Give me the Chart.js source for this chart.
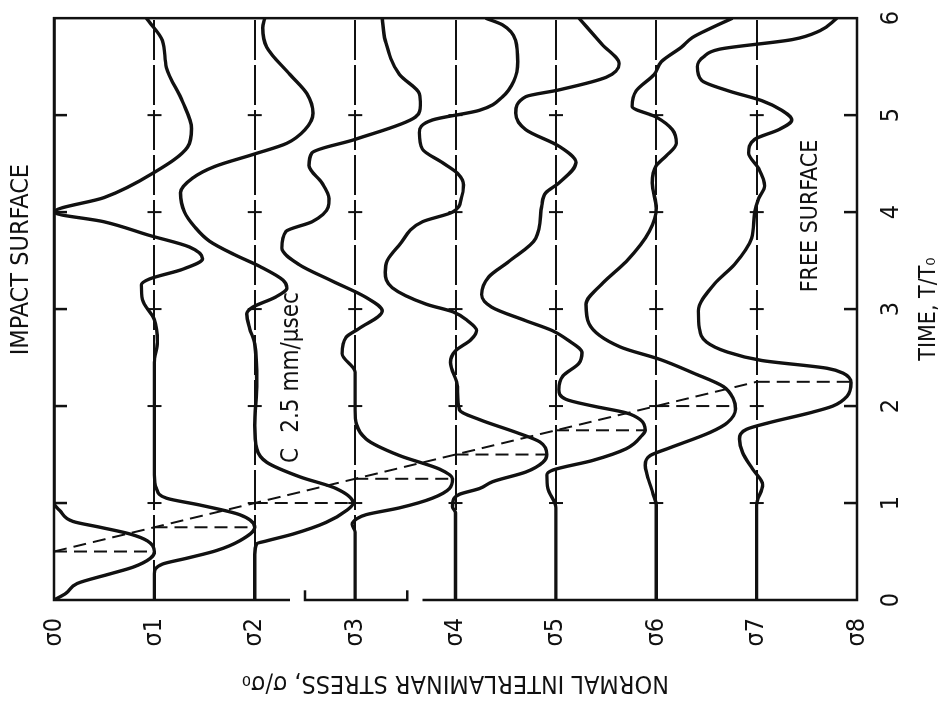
<!DOCTYPE html>
<html>
<head>
<meta charset="utf-8">
<script src="https://cdn.jsdelivr.net/npm/chart.js@4.4.1/dist/chart.umd.min.js"></script>
<style>
  html, body { margin: 0; padding: 0; background: #fff; overflow: hidden; }
  /* the figure is printed sideways: draw it upright, then turn it a quarter turn */
  #wrap {
    position: absolute; left: 0; top: 0;
    width: 707px; height: 943px;
    transform-origin: 0 0;
    transform: translate(0, 707px) rotate(-90deg);
  }
</style>
</head>
<body>
<div id="wrap"><canvas id="stress"></canvas></div>
<script>
document.addEventListener('DOMContentLoaded', () => {

  // AXES
  const timeTicks = [0, 1, 2, 3, 4, 5, 6];
  const layerLabels = ['σ0', 'σ1', 'σ2', 'σ3', 'σ4', 'σ5', 'σ6', 'σ7', 'σ8'];

  // STRESS HISTORY PER INTERFACE (time T/T0, offset from own baseline in σ0 units)
  const layer0Time = [0, 0.07, 0.17, 0.27, 0.34, 0.43, 0.5, 0.61, 0.68, 0.75, 0.81, 0.92, 1.0, 6.0];
  const layer0Stress = [0, 0.12, 0.23, 0.56, 0.79, 0.96, 1.0, 0.93, 0.76, 0.46, 0.19, 0.06, 0, 0];

  const layer1Time = [0, 0.27, 0.37, 0.43, 0.51, 0.61, 0.75, 0.88, 0.98, 1.05, 1.15, 1.29, 2.45, 2.66, 2.89, 3.1, 3.25, 3.31, 3.41, 3.52, 3.64, 3.76, 3.9, 4.0, 4.15, 4.41, 4.67, 4.86, 5.14, 5.49, 5.77, 5.96, 6.0];
  const layer1Stress = [0, 0, 0.08, 0.32, 0.62, 0.85, 1.0, 0.85, 0.45, 0.12, 0.02, 0, 0, 0.03, 0, -0.12, -0.13, -0.05, 0.28, 0.48, 0.35, -0.05, -0.5, -1.0, -0.5, 0, 0.33, 0.37, 0.28, 0.12, 0.08, -0.05, -0.08];

  const layer2Time = [0, 0.47, 0.58, 0.61, 0.68, 0.8, 0.92, 1.0, 1.15, 1.27, 1.42, 1.56, 1.8, 2.24, 2.64, 2.8, 2.95, 3.02, 3.12, 3.22, 3.3, 3.44, 3.56, 3.7, 3.85, 4.0, 4.2, 4.35, 4.47, 4.6, 4.71, 4.85, 5.02, 5.22, 5.42, 5.7, 5.9, 6.0];
  const layer2Stress = [0, 0, 0.02, 0.12, 0.38, 0.71, 0.91, 0.98, 0.81, 0.45, 0.12, 0.02, 0, 0.02, 0, -0.05, -0.08, -0.02, 0.2, 0.32, 0.28, 0.05, -0.2, -0.45, -0.6, -0.7, -0.74, -0.62, -0.4, 0, 0.32, 0.5, 0.58, 0.52, 0.35, 0.12, 0.08, 0.1];

  const layer3Time = [0, 0.7, 0.78, 0.84, 0.88, 0.95, 1.05, 1.15, 1.25, 1.35, 1.49, 1.66, 1.96, 2.35, 2.54, 2.71, 2.8, 2.98, 3.12, 3.29, 3.46, 3.63, 3.8, 3.9, 4.05, 4.14, 4.3, 4.48, 4.61, 4.75, 4.98, 5.1, 5.22, 5.42, 5.77, 6.0];
  const layer3Stress = [0, 0, -0.03, 0.02, 0.11, 0.44, 0.77, 0.94, 0.97, 0.84, 0.44, 0.11, 0, 0, -0.13, -0.09, 0.04, 0.27, 0.11, -0.23, -0.56, -0.73, -0.69, -0.43, -0.27, -0.26, -0.33, -0.46, -0.43, 0, 0.6, 0.65, 0.64, 0.44, 0.3, 0.27];

  const layer4Time = [0, 0.9, 0.96, 1.04, 1.09, 1.15, 1.22, 1.32, 1.42, 1.5, 1.63, 1.73, 1.86, 1.96, 2.2, 2.45, 2.57, 2.68, 2.78, 2.88, 2.97, 3.05, 3.22, 3.38, 3.5, 3.66, 3.9, 4.0, 4.15, 4.28, 4.4, 4.51, 4.65, 4.82, 4.95, 5.05, 5.19, 5.35, 5.55, 5.77, 5.93, 6.0];
  const layer4Stress = [0, 0, -0.03, -0.02, 0.04, 0.24, 0.37, 0.7, 0.87, 0.91, 0.84, 0.6, 0.24, 0.04, 0.02, -0.05, 0, 0.15, 0.21, 0.12, -0.02, -0.29, -0.63, -0.7, -0.68, -0.56, -0.33, -0.03, 0.06, 0.08, 0.02, -0.13, -0.33, -0.36, -0.23, 0.24, 0.47, 0.58, 0.62, 0.6, 0.47, 0.3];

  const layer5Time = [0, 0.95, 1.15, 1.29, 1.34, 1.44, 1.56, 1.7, 1.75, 1.86, 1.93, 2.0, 2.07, 2.17, 2.31, 2.44, 2.55, 2.68, 2.78, 2.88, 3.02, 3.15, 3.33, 3.49, 3.73, 4.07, 4.2, 4.3, 4.51, 4.68, 4.85, 5.02, 5.19, 5.26, 5.39, 5.53, 5.73, 6.0];
  const layer5Stress = [0, 0, -0.08, -0.09, -0.03, 0.37, 0.7, 0.86, 0.89, 0.84, 0.7, 0.37, 0.1, 0.03, 0.07, 0.23, 0.26, 0.12, -0.04, -0.3, -0.64, -0.74, -0.67, -0.47, -0.2, -0.14, -0.1, 0.03, 0.2, 0.03, -0.3, -0.4, -0.3, 0.03, 0.5, 0.63, 0.46, 0.23];

  const layer6Time = [0, 0.98, 1.09, 1.29, 1.39, 1.49, 1.56, 1.73, 1.83, 1.97, 2.07, 2.2, 2.34, 2.48, 2.61, 2.85, 3.05, 3.26, 3.49, 3.8, 4.04, 4.3, 4.48, 4.58, 4.71, 4.85, 4.98, 5.09, 5.25, 5.42, 5.55, 5.7, 5.8, 5.9, 6.0];
  const layer6Stress = [0, 0, -0.03, -0.09, -0.11, -0.06, 0.11, 0.54, 0.71, 0.79, 0.77, 0.67, 0.37, 0.04, -0.36, -0.67, -0.7, -0.54, -0.3, -0.07, 0, -0.04, 0, 0.1, 0.2, 0.16, 0, -0.24, -0.2, -0.02, 0.05, 0.25, 0.36, 0.55, 0.76];

  const layer7Time = [0, 0.98, 1.19, 1.35, 1.52, 1.66, 1.76, 1.83, 1.93, 2.0, 2.1, 2.24, 2.34, 2.39, 2.47, 2.56, 2.66, 2.8, 2.98, 3.26, 3.46, 3.73, 4.0, 4.14, 4.27, 4.45, 4.61, 4.75, 4.85, 4.95, 5.05, 5.15, 5.25, 5.36, 5.5, 5.6, 5.68, 5.78, 5.87, 6.0];
  const layer7Stress = [0, 0, 0.06, -0.04, -0.14, -0.17, -0.1, 0.13, 0.53, 0.76, 0.9, 0.94, 0.86, 0.7, 0.05, -0.3, -0.5, -0.57, -0.58, -0.42, -0.22, -0.05, -0.02, 0.02, 0.08, 0.02, -0.08, -0.02, 0.22, 0.35, 0.25, 0.05, -0.28, -0.55, -0.59, -0.53, -0.37, 0.36, 0.63, 0.8];

  // WAVE FRONT (C = 2.5 mm/usec) AND PEAK OF EACH PULSE
  const peakTime = [0.5, 0.75, 1.0, 1.25, 1.5, 1.75, 2.0, 2.25];
  const peakStress = [1.0, 1.0, 0.98, 0.97, 0.91, 0.89, 0.79, 0.94];

  const FONT = "'Liberation Sans Narrow', 'DejaVu Sans Condensed', 'Arial Narrow', sans-serif";
  const INK = '#111';

  const layers = [
    [layer0Time, layer0Stress], [layer1Time, layer1Stress], [layer2Time, layer2Stress],
    [layer3Time, layer3Stress], [layer4Time, layer4Stress], [layer5Time, layer5Stress],
    [layer6Time, layer6Stress], [layer7Time, layer7Stress],
  ];

  const datasets = layers.map(([t, s], k) => ({
    label: layerLabels[k],
    data: t.map((v, i) => ({ x: v, y: k + s[i] })),
    showLine: true,
    borderColor: INK,
    borderWidth: 3.4,
    pointRadius: 0,
    cubicInterpolationMode: 'monotone',
  }));

  // dashed wave front through the interfaces, then a dash out to each peak
  const dashStyle = { showLine: true, borderColor: INK, borderWidth: 2, borderDash: [13, 7], pointRadius: 0 };
  datasets.push({
    ...dashStyle,
    data: [{ x: peakTime[0], y: 0 }, { x: peakTime[7], y: 7 }],
  });
  peakTime.forEach((t, k) => {
    datasets.push({
      ...dashStyle,
      data: [{ x: t, y: k }, { x: t, y: k + peakStress[k] }],
    });
  });

  // "+" marks where time ticks cross the interface lines, inward ticks on the frame
  const inner = timeTicks.slice(1, -1);
  datasets.push({
    data: inner.flatMap(t => [1, 2, 3, 4, 5, 6, 7].map(k => ({ x: t, y: k }))),
    pointStyle: 'line', rotation: 90, pointRadius: 7,
    pointBorderWidth: 2, pointBorderColor: INK,
  });
  datasets.push({
    data: inner.flatMap(t => [0, 8].map(k => ({ x: t, y: k }))),
    pointStyle: 'line', rotation: 90, pointRadius: 13,
    pointBorderWidth: 2.5, pointBorderColor: INK, clip: 0,
  });

  // bracket on the impact-time edge
  datasets.push({
    data: [{ x: 0.1, y: 2.5 }, { x: 0, y: 2.5 }, { x: 0, y: 3.52 }, { x: 0.1, y: 3.52 }],
    showLine: true, borderColor: INK, borderWidth: 2.5, pointRadius: 0, clip: false,
  });

  const notes = [
    { text: 'IMPACT SURFACE', t: 3.51, s: -0.32, size: 25 },
    { text: 'FREE SURFACE', t: 3.96, s: 7.54, size: 23 },
    { text: 'C', t: 1.49, s: 2.37, size: 24 },
    { text: '2.5 mm/μsec', t: 2.45, s: 2.37, size: 24 },
  ];

  const frame = {
    id: 'frame',
    afterDatasetsDraw(chart) {
      const { ctx, chartArea: a, scales: { x, y } } = chart;
      ctx.save();
      ctx.strokeStyle = INK;
      ctx.lineWidth = 2.5;
      ctx.beginPath();
      ctx.moveTo(a.left, y.getPixelForValue(2.35));
      ctx.lineTo(a.left, a.top);
      ctx.lineTo(a.right, a.top);
      ctx.lineTo(a.right, a.bottom);
      ctx.lineTo(a.left, a.bottom);
      ctx.lineTo(a.left, y.getPixelForValue(3.67));
      ctx.stroke();

      ctx.fillStyle = INK;
      ctx.textAlign = 'center';
      ctx.textBaseline = 'middle';
      notes.forEach(n => {
        ctx.font = n.size + 'px ' + FONT;
        ctx.fillText(n.text, x.getPixelForValue(n.t), y.getPixelForValue(n.s));
      });
      ctx.restore();
    }
  };

  const config = {
    type: 'scatter',
    data: { datasets: datasets },
    options: {
      responsive: true,
      maintainAspectRatio: false,
      animation: false,
      layout: { padding: { top: 54, right: 10, left: 0, bottom: 0 } },
      plugins: { legend: { display: false }, tooltip: { enabled: false } },
      scales: {
        x: {
          type: 'linear', min: 0, max: 6,
          afterFit: scale => { scale.height = 86; },
          grid: { display: false },
          border: { display: false },
          ticks: { stepSize: 1, color: INK, padding: 11, font: { family: FONT, size: 25 } },
          title: { display: true, text: 'TIME, T/T₀', color: INK, padding: 0, font: { family: FONT, size: 23 } },
        },
        y: {
          type: 'linear', min: 0, max: 8, reverse: true,
          afterFit: scale => { scale.width = 107; },
          grid: { color: INK, lineWidth: 2, drawTicks: false },
          border: { display: false, dash: [40, 5] },
          ticks: {
            stepSize: 1, color: INK, padding: 18,
            font: { family: FONT, size: 25 },
            callback: v => layerLabels[v],
          },
          title: {
            display: true, text: 'NORMAL INTERLAMINAR STRESS, σ/σ₀', color: INK,
            padding: { top: 9, bottom: 0 }, font: { family: FONT, size: 25 },
          },
        },
      },
    },
    plugins: [frame],
  };

  new Chart(document.getElementById('stress'), config);
});
</script>
</body>
</html>
